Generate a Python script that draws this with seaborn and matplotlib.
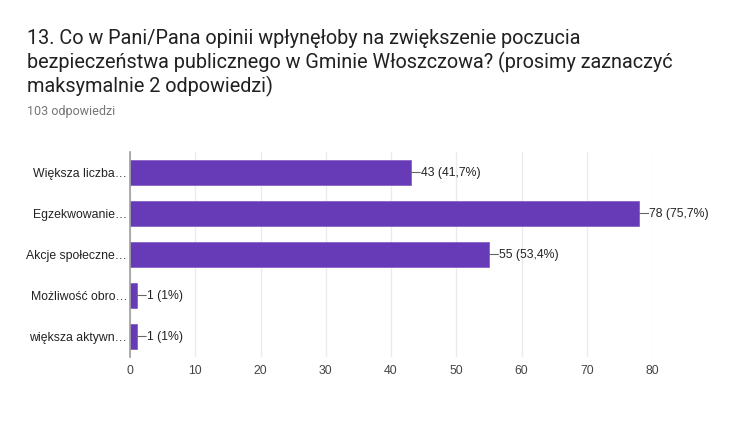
import matplotlib
matplotlib.use("Agg")
import matplotlib.pyplot as plt
import seaborn as sns
import pandas as pd

categories = ["Większa liczba…", "Egzekwowanie…", "Akcje społeczne…",
              "Możliwość obro…", "większa aktywn…"]
counts = [43, 78, 55, 1, 1]
labels = ["43 (41,7%)", "78 (75,7%)", "55 (53,4%)", "1 (1%)", "1 (1%)"]
x_ticks = [0, 10, 20, 30, 40, 50, 60, 70, 80]
title_lines = ["13. Co w Pani/Pana opinii wpłynęłoby na zwiększenie poczucia",
               "bezpieczeństwa publicznego w Gminie Włoszczowa? (prosimy zaznaczyć",
               "maksymalnie 2 odpowiedzi)"]
subtitle = "103 odpowiedzi"

sns.set_theme(style="white")
plt.rcParams['font.family'] = ['Liberation Sans', 'DejaVu Sans']

df = pd.DataFrame({"cat": categories, "count": counts})

fig = plt.figure(figsize=(7.35, 4.21), dpi=100)
ax = fig.add_axes([130/735, 1-357/421, 522/735, 205/421])

sns.barplot(data=df, x="count", y="cat", orient="h", color="#673AB7",
            saturation=1, width=0.61, ax=ax, zorder=3, edgecolor="#7e57c2",
            linewidth=0.5)

ax.set_xlim(0, 80)
ax.set_xticks(x_ticks)
ax.set_xlabel("")
ax.set_ylabel("")
ax.grid(axis="x", color="#ebebeb", linewidth=1, zorder=0)
for s in ["top", "right", "bottom"]:
    ax.spines[s].set_visible(False)
ax.spines["left"].set_color("#9e9e9e")
ax.spines["left"].set_linewidth(1.2)
ax.spines["left"].set_zorder(4)
ax.tick_params(axis="both", length=0, labelsize=8.8, colors="#222222")
ax.tick_params(axis="y", pad=2)
ax.tick_params(axis="x", pad=6)
for t in ax.get_xticklabels():
    t.set_color("#444444")

for i, (v, lab) in enumerate(zip(counts, labels)):
    ax.annotate("", xy=(v, i), xytext=(7, 0), textcoords="offset points",
                arrowprops=dict(arrowstyle="-", color="#666666", lw=0.8,
                                shrinkA=0, shrinkB=0))
    ax.annotate(lab, xy=(v, i), xytext=(7.5, 0), textcoords="offset points",
                ha="left", va="center", fontsize=8.8, color="#222222")

for k, line in enumerate(title_lines):
    fig.text(27/735, 1-(38+24*k)/421, line, fontsize=14.3, family=["Roboto", "DejaVu Sans"],
             color="#212121", ha="left", va="center")
fig.text(27/735, 1-112/421, subtitle, fontsize=9, family=["Roboto", "DejaVu Sans"],
         color="#757575", ha="left", va="center")

fig.savefig("out.png", dpi=100, facecolor="white")
